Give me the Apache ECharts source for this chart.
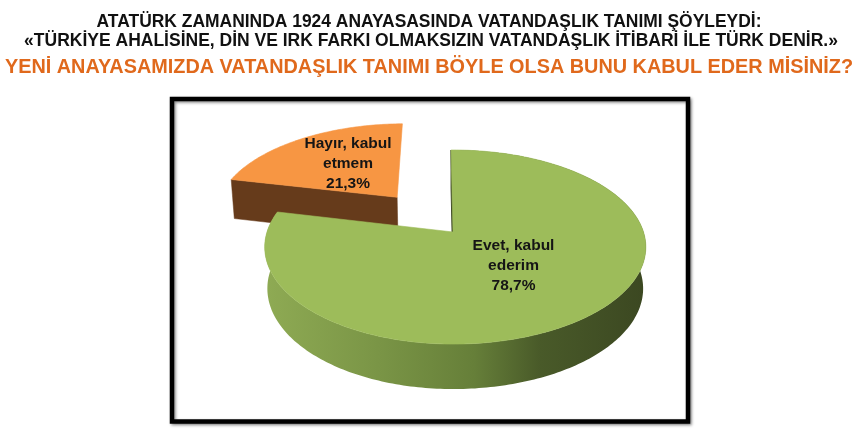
<!DOCTYPE html>
<html><head><meta charset="utf-8">
<style>html,body{margin:0;padding:0;background:#fff}#c{width:858px;height:443px}</style>
<script src="https://cdn.jsdelivr.net/npm/echarts@6/dist/echarts.min.js"></script>
</head><body><div id="c"></div>
<script>
const categories = ["Evet, kabul ederim", "Hayır, kabul etmem"];
const values = [78.7, 21.3];
const labelLines = ["Evet, kabul\nederim\n78,7%", "Hayır, kabul\netmem\n21,3%"];
const titleLines = [
  "ATATÜRK ZAMANINDA 1924 ANAYASASINDA VATANDAŞLIK TANIMI ŞÖYLEYDİ:",
  "«TÜRKİYE AHALİSİNE, DİN VE IRK FARKI OLMAKSIZIN VATANDAŞLIK İTİBARİ İLE TÜRK DENİR.»",
  "YENİ ANAYASAMIZDA VATANDAŞLIK TANIMI BÖYLE OLSA BUNU KABUL EDER MİSİNİZ?"
];
const explode = [0, 0.5];

// perspective pie layout
const CX = 453, CY = 232, RX_RIGHT = 190.5, RX_LEFT = [186, 188], RY = 94.7, P = 0.155, START = -0.7;
const labelAt = [[513.5, 266], [348, 164]];
const topColors = ['#9dbc5a', '#f79643'];
const total = values.reduce((a, b) => a + b, 0);

function project(u, v, i) {
  const s = 1 / (1 - P * v);
  return [CX + (u > 0 ? RX_RIGHT : RX_LEFT[i]) * u * s, CY + RY * v * s];
}
function drop(p) {
  return [CX + (p[0] - CX) * 0.986, p[1] * 1.036 + 32.6];
}
function angleRange(i) {
  let a = START;
  for (let k = 0; k < i; k++) a += values[k] / total * 360;
  return [a, a + values[i] / total * 360];
}
function renderItem(params, api) {
  const i = api.value(0);
  const [a0, a1] = angleRange(i);
  const mid = (a0 + a1) / 2 * Math.PI / 180;
  const ou = Math.sin(mid) * explode[i], ov = -Math.cos(mid) * explode[i];
  const arc = [];
  for (let a = a0; ; a += 1) {
    const d = Math.min(a, a1) * Math.PI / 180;
    arc.push(project(ou + Math.sin(d), ov - Math.cos(d), i));
    if (a >= a1) break;
  }
  const apex = project(ou, ov, i);
  const children = [];
  if (i === 0) {
    const lower = arc.map(drop).reverse();
    children.push({ type: 'polygon', shape: { points: arc.concat(lower) },
      style: { fill: new echarts.graphic.LinearGradient(262, 0, 648, 0, [
        { offset: 0, color: '#8fab54' }, { offset: 0.3, color: '#7a9546' },
        { offset: 0.55, color: '#667f39' }, { offset: 0.72, color: '#495a29' },
        { offset: 1, color: '#3b4721' }], true) } });
    const o = arc[0];
    children.push({ type: 'polygon', shape: { points: [apex, o, drop(o), drop(apex)] },
      style: { fill: '#3f4a25', stroke: '#3f4a25', lineWidth: 1 } });
  } else {
    const c0 = arc[0];
    children.push({ type: 'polygon', shape: { points: [apex, c0, drop(c0), drop(apex)] },
      style: { fill: '#663b1b', stroke: '#663b1b', lineWidth: 0.5 } });
  }
  children.push({ type: 'polygon', shape: { points: [apex].concat(arc) },
    style: { fill: topColors[i], stroke: topColors[i], lineWidth: 0.6 } });
  children.push({ type: 'text', x: labelAt[i][0], y: labelAt[i][1],
    style: { text: labelLines[i], fill: '#151515', textAlign: 'center', textVerticalAlign: 'middle',
      font: 'bold 15.5px "Liberation Sans", Arial, sans-serif', lineHeight: 20 } });
  return { type: 'group', children };
}

const chart = echarts.init(document.getElementById('c'), null, { renderer: 'canvas' });
chart.setOption({
  animation: false,
  backgroundColor: '#ffffff',
  title: [
    { text: titleLines[0], left: 424, top: 8.5, textAlign: 'center',
      textStyle: { fontFamily: 'Liberation Sans', fontWeight: 'bold', fontSize: 17.45, color: '#111111' } },
    { text: titleLines[1], left: 426, top: 27.5, textAlign: 'center',
      textStyle: { fontFamily: 'Liberation Sans', fontWeight: 'bold', fontSize: 17.5, color: '#111111' } },
    { text: titleLines[2], left: 424, top: 52.5, textAlign: 'center',
      textStyle: { fontFamily: 'Liberation Sans', fontWeight: 'bold', fontSize: 19.85, color: '#e0691c' } }
  ],
  graphic: [{ type: 'rect', z: -1, shape: { x: 172, y: 99, width: 516, height: 322.5 },
    style: { fill: '#ffffff', stroke: '#000000', lineWidth: 4.5,
      shadowColor: 'rgba(0,0,0,0.45)', shadowBlur: 3, shadowOffsetX: 1.5, shadowOffsetY: 1.5 } }],
  series: [{
    type: 'custom', coordinateSystem: 'none', renderItem, silent: true,
    data: [1, 0].map(i => ({ name: categories[i], value: [i, values[i]] })),
    encode: { value: 1 }
  }]
});
</script></body></html>
